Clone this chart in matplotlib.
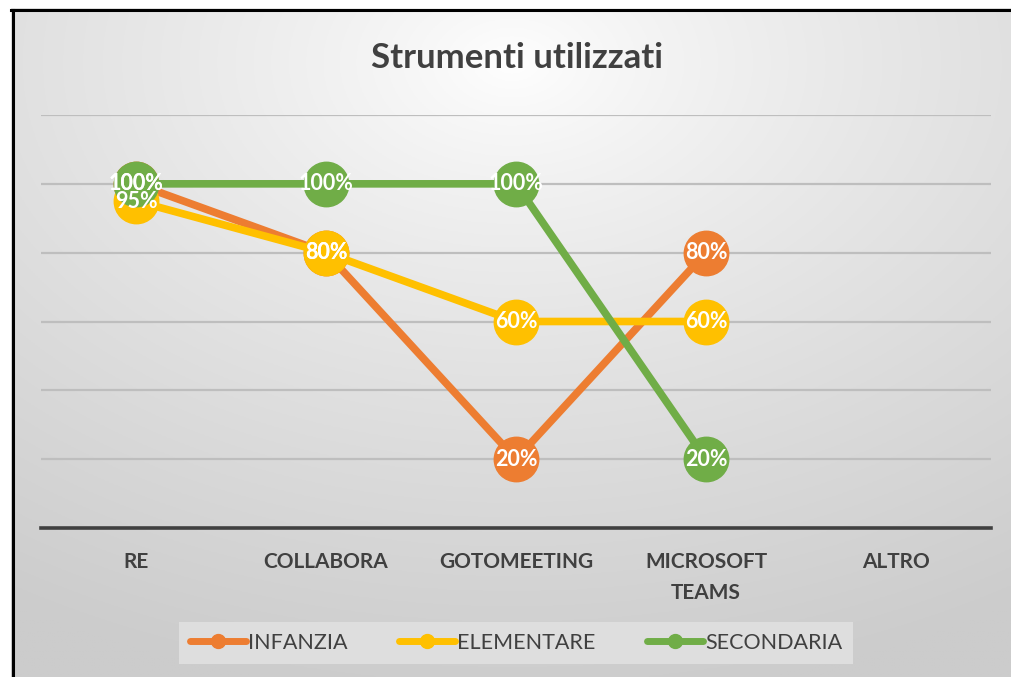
import numpy as np
import matplotlib
matplotlib.use('Agg')
import matplotlib.pyplot as plt
from matplotlib.lines import Line2D

# data
categories = ['RE', 'COLLABORA', 'GOTOMEETING', 'MICROSOFT\nTEAMS', 'ALTRO']
infanzia = [100, 80, 20, 80, None]
elementare = [95, 80, 60, 60, None]
secondaria = [100, 100, 100, 20, None]
series_names = ['INFANZIA', 'ELEMENTARE', 'SECONDARIA']
series_colors = ['#ED7D31', '#FFC000', '#70AD47']

plt.rcParams['font.family'] = ['Lato', 'DejaVu Sans']

fig = plt.figure(figsize=(10.11, 6.77), dpi=100)

# background with radial gradient inside a black frame
bx0 = 11 / 1011
by1 = 1 - 8 / 677
bg = fig.add_axes([bx0, 0, 1 - bx0, by1])
bg.set_axis_off()
h, w = 300, 450
yy, xx = np.mgrid[0:h, 0:w]
cx, cy = w * 0.5, h * 0.08
r = np.sqrt(((xx - cx) / w) ** 2 + ((yy - cy) / h) ** 2)
r = np.clip(r / 0.95, 0, 1)
val = 1.0 - 0.2 * r ** 0.8
img = np.dstack([val, val, val])
bg.imshow(img, aspect='auto', extent=[0, 1, 0, 1], origin='upper')
bg.set_xlim(0, 1)
bg.set_ylim(0, 1)
bg.plot([0.0015, 0.0015], [0, 0.997], color='black', lw=2.2, clip_on=False)
bg.plot([0, 1], [0.997, 0.997], color='black', lw=2.2, clip_on=False)

ax = fig.add_axes([41 / 1011, 1 - 528 / 677, 950 / 1011, 413 / 677])
ax.set_facecolor('none')
x = np.arange(len(categories))

for vals, name, col in zip([infanzia, elementare, secondaria], series_names, series_colors):
    xs = [i for i, v in zip(x, vals) if v is not None]
    ys = [v for v in vals if v is not None]
    ax.plot(xs, ys, color=col, lw=5.5, marker='o', markersize=32,
            solid_capstyle='round', zorder=3)

for vals in [infanzia, elementare, secondaria]:
    for i, v in zip(x, vals):
        if v is not None:
            ax.text(i, v, f'{v}%', ha='center', va='center', color='white',
                    fontsize=15.5, fontweight='bold', zorder=5)

ax.set_xlim(-0.5, len(categories) - 0.5)
ax.set_ylim(0, 120)
ax.set_yticks([20, 40, 60, 80, 100, 120])
ax.yaxis.grid(True, color='#BEBEBE', lw=1.6)
ax.set_axisbelow(True)
ax.tick_params(axis='y', left=False, labelleft=False)
ax.tick_params(axis='x', bottom=False, pad=14)
ax.set_xticks(x)
ax.set_xticklabels(categories, fontsize=15, fontweight='bold', color='#404040',
                   linespacing=1.65)
for s in ['top', 'right', 'left']:
    ax.spines[s].set_visible(False)
ax.spines['bottom'].set_color('#404040')
ax.spines['bottom'].set_linewidth(2.6)

fig.text(517 / 1011, 1 - 58 / 677, 'Strumenti utilizzati', ha='center', va='center',
         fontsize=25, fontweight='bold', color='#404040')

handles = [Line2D([0], [0], color=c, lw=5, marker='o', markersize=10,
                  solid_capstyle='round') for c in series_colors]
leg = fig.legend(handles, series_names, loc='center', bbox_to_anchor=(516 / 1011, 1 - 643 / 677),
                 ncol=3, frameon=True, fontsize=15.5, handlelength=2.6, handletextpad=0.1,
                 columnspacing=2.4, borderpad=0.5, fancybox=False)
leg.get_frame().set_facecolor('#DEDEDE')
leg.get_frame().set_edgecolor('none')
leg.get_frame().set_alpha(1)
for t in leg.get_texts():
    t.set_color('#404040')

fig.savefig('out.png', dpi=100)
